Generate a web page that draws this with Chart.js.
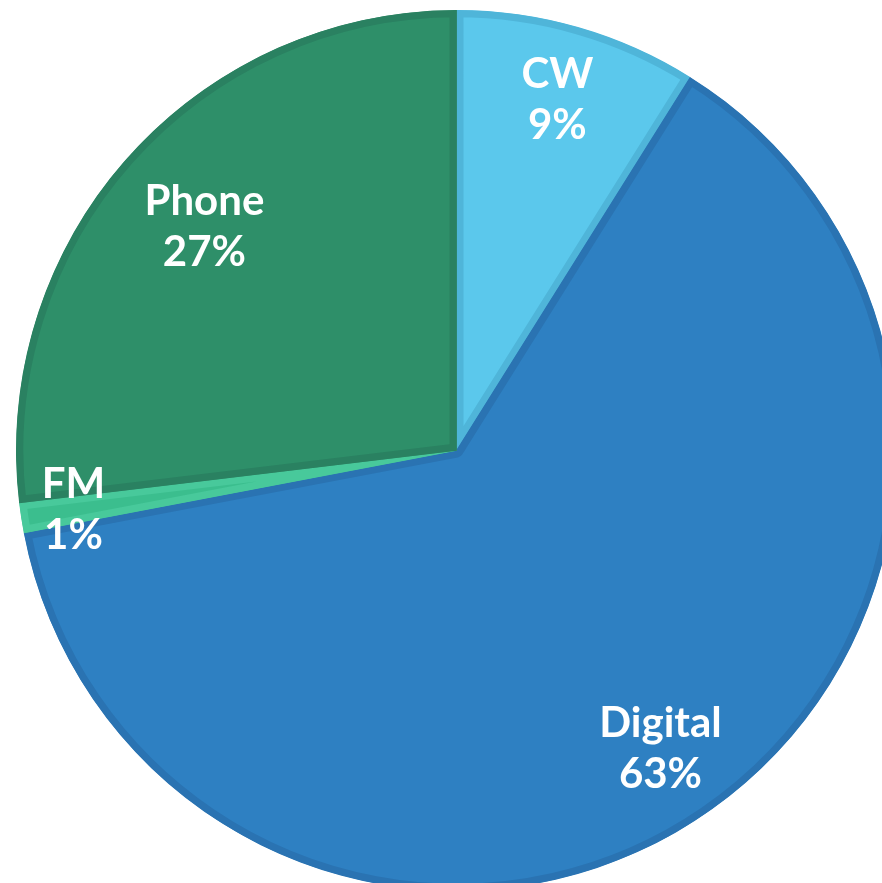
<!DOCTYPE html>
<html>
<head>
<meta charset="utf-8">
<script src="https://cdn.jsdelivr.net/npm/chart.js@4"></script>
<style>
    html, body { margin: 0; padding: 0; background: #fff; overflow: hidden; }
    #wrap { position: absolute; left: 16px; top: 10px; width: 881px; height: 881px; }
</style>
</head>
<body>
<div id="wrap"><canvas id="modeChart"></canvas></div>
<script>
// --- Data ---
const modeLabels = ['CW', 'Digital', 'FM', 'Phone'];
const modeShares = [8.9, 63.1, 1.1, 26.9];

// --- Look ---
const fillColors = ['#5BC8EC', '#2E80C2', '#3BBE8E', '#2E8F69'];
const edgeColors = ['#4FB5D9', '#2A73B2', '#48C99B', '#2A8161'];
const labelRadius = [0.83, 0.82, 0.88, 0.765];

const sliceLabels = {
    id: 'sliceLabels',
    afterDatasetsDraw(chart) {
        const { ctx } = chart;
        const meta = chart.getDatasetMeta(0);
        const total = modeShares.reduce((a, b) => a + b, 0);
        ctx.save();
        ctx.fillStyle = '#ffffff';
        ctx.font = 'bold 42px Lato';
        ctx.textAlign = 'center';
        ctx.textBaseline = 'middle';
        meta.data.forEach((arc, i) => {
            const p = arc.getProps(['x', 'y', 'startAngle', 'endAngle', 'outerRadius']);
            const mid = (p.startAngle + p.endAngle) / 2;
            const r = p.outerRadius * labelRadius[i];
            const cx = p.x + Math.cos(mid) * r;
            const cy = p.y + Math.sin(mid) * r;
            const pct = Math.round(modeShares[i] / total * 100) + '%';
            ctx.fillText(modeLabels[i], cx, cy - 25);
            ctx.fillText(pct, cx, cy + 26);
        });
        ctx.restore();
    }
};

new Chart(document.getElementById('modeChart'), {
    type: 'pie',
    data: {
        labels: modeLabels,
        datasets: [{
            data: modeShares,
            backgroundColor: fillColors,
            borderColor: edgeColors,
            borderWidth: 7,
            borderAlign: 'inner'
        }]
    },
    options: {
        responsive: true,
        maintainAspectRatio: false,
        animation: false,
        events: [],
        layout: { padding: 0 },
        plugins: {
            legend: { display: false },
            tooltip: { enabled: false }
        }
    },
    plugins: [sliceLabels]
});
</script>
</body>
</html>
